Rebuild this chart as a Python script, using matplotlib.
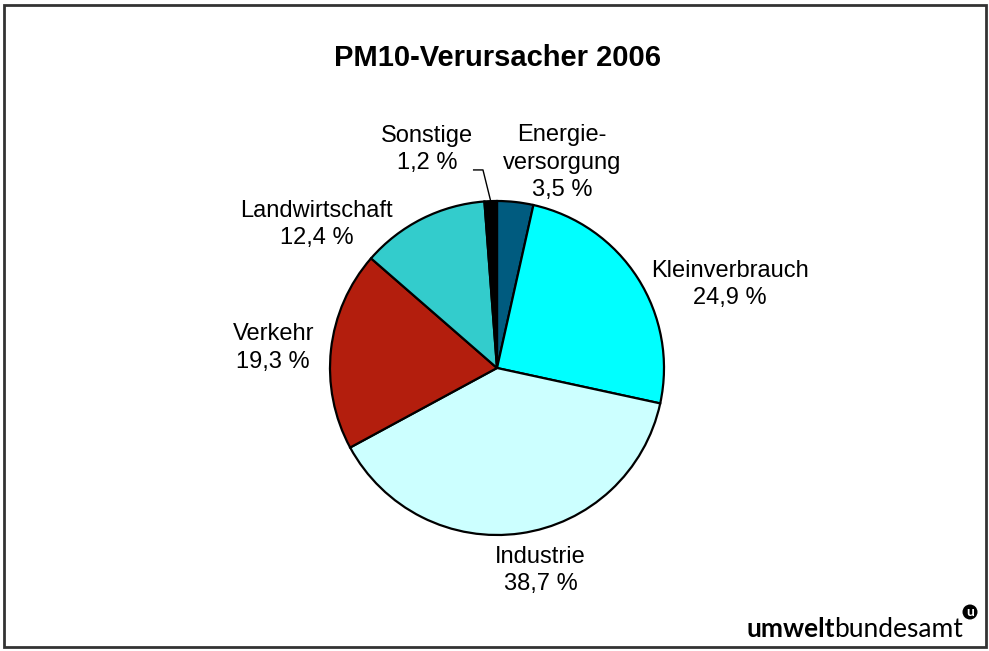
import numpy as np
import matplotlib.pyplot as plt
from matplotlib.patches import Rectangle, Circle

plt.rcParams['font.family'] = ['Liberation Sans', 'DejaVu Sans']

# data
names = ['Energie-\nversorgung', 'Kleinverbrauch', 'Industrie',
         'Verkehr', 'Landwirtschaft', 'Sonstige']
shares = [3.5, 24.9, 38.7, 19.3, 12.4, 1.2]
colors = ['#005B7F', '#00FFFF', '#CCFFFF', '#B31E0D', '#33CCCC', '#000000']

# label centres, in pie radii from the centre
label_pos = [(0.39, 1.23), (1.395, 0.50), (0.26, -1.21),
             (-1.34, 0.12), (-1.08, 0.86), (-0.42, 1.31)]

W, H = 989, 651
cx, cy, r = 497, 368, 167   # pie centre / radius in pixels (from top)

fig = plt.figure(figsize=(W / 100, H / 100), dpi=100)
ax = fig.add_axes([0, 0, 1, 1])

wedges, _ = ax.pie(shares, colors=colors, startangle=90, counterclock=False,
                   radius=1, center=(0, 0),
                   wedgeprops=dict(edgecolor='black', linewidth=1.6))
ax.set_xlim(-cx / r, (W - cx) / r)
ax.set_ylim(-(H - cy) / r, cy / r)
ax.set_aspect('equal')
ax.axis('off')

for name, val, (lx, ly) in zip(names, shares, label_pos):
    txt = f'{name}\n{val:.1f} %'.replace('.', ',')
    ax.text(lx, ly, txt, ha='center', va='center', fontsize=17,
            linespacing=1.3)

# leader line for Sonstige
w = wedges[-1]
mid = np.deg2rad((w.theta1 + w.theta2) / 2)
ax.plot([-0.144, -0.084, np.cos(mid)], [1.186, 1.186, np.sin(mid)],
        color='black', lw=1, solid_capstyle='butt')

fig.text(0.503, 1 - 66 / H, 'PM10-Verursacher 2006', ha='center',
         va='baseline', fontsize=21, fontweight='bold')

# logo
t1 = fig.text(746 / W, 1 - 637 / H, 'umwelt', fontsize=19,
              fontweight='bold', family='Lato', va='baseline')
fig.canvas.draw()
bb = t1.get_window_extent()
fig.text(bb.x1 / W, 1 - 637 / H, 'bundesamt', fontsize=19,
         fontweight='normal', family='Lato', va='baseline')
fig.patches.append(Circle((970, H - 612), 7.5, transform=None,
                          facecolor='black', edgecolor='none'))
fig.text(970 / W, 1 - 612 / H, 'u', fontsize=10, fontweight='bold',
         family='Lato', color='white', ha='center', va='center')

# frame
fig.patches.append(Rectangle((4, 4), 982, 642, transform=None, fill=False,
                             edgecolor='#333333', linewidth=2))

fig.savefig('out.png', dpi=100)
